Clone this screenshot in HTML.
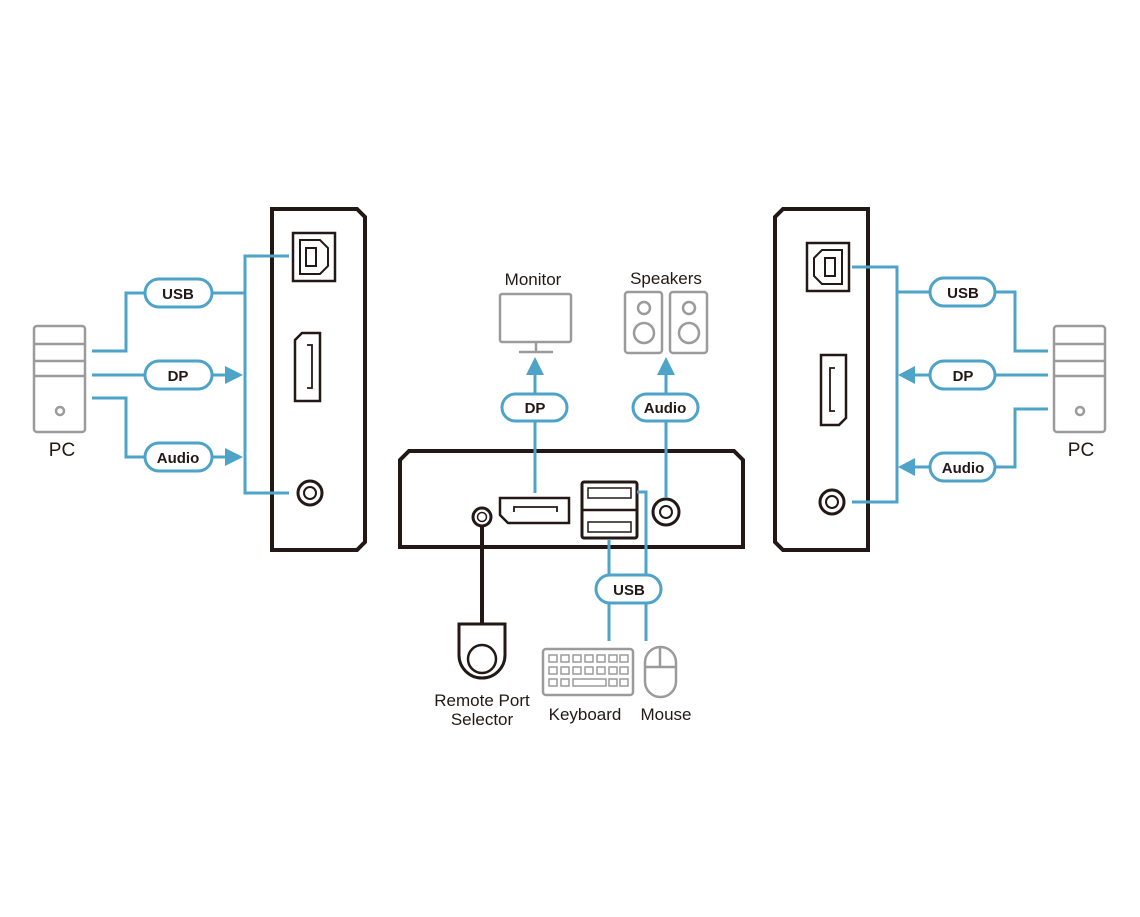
<!DOCTYPE html>
<html><head><meta charset="utf-8"><style>
html,body{margin:0;padding:0;background:#fff;}
svg{display:block}
text{font-family:"Liberation Sans",sans-serif}
.b{fill:none;stroke:#4ea3c8;stroke-width:3}
.k{fill:none;stroke:#231815;stroke-width:4;stroke-linejoin:miter}
.g{fill:none;stroke:#9b9b9b;stroke-width:2.5}
.pill{fill:#fff;stroke:#4ea3c8;stroke-width:3}
.pt{font-weight:bold;font-size:15px;fill:#231815;text-anchor:middle}
.lb{font-size:17px;fill:#231815;text-anchor:middle}
</style></head><body>
<svg width="1140" height="917" viewBox="0 0 1140 917">
<!-- LEFT -->
<path class="k" d="M272,209 H357 L365,217 V542 L357,550 H272 Z"/>
<rect x="293" y="233" width="42" height="48" fill="none" stroke="#231815" stroke-width="2.5"/>
<path d="M300,240 H320 L328,248 V266 L320,274 H300 Z" fill="none" stroke="#231815" stroke-width="2"/>
<rect x="306" y="248" width="10" height="18" fill="none" stroke="#231815" stroke-width="2"/>
<path d="M302,333 H320 V401 H295 V340 Z" fill="none" stroke="#231815" stroke-width="2.5"/>
<path d="M307,345 H312 V388 H307" fill="none" stroke="#231815" stroke-width="1.8"/>
<circle cx="310" cy="493" r="12" fill="none" stroke="#231815" stroke-width="3"/>
<circle cx="310" cy="493" r="6" fill="none" stroke="#231815" stroke-width="2"/>
<path class="b" d="M289,256 H245 V493 H289"/>
<path class="b" d="M92,351 H126 V293 H245"/>
<path class="b" d="M92,375 H226"/>
<path class="b" d="M92,398 H126 V457 H226"/>
<polygon points="225,366 243,375 225,384" fill="#4ea3c8"/>
<polygon points="225,448 243,457 225,466" fill="#4ea3c8"/>
<rect class="pill" x="145" y="279" width="67" height="28" rx="14"/><text class="pt" x="178" y="299">USB</text>
<rect class="pill" x="145" y="361" width="67" height="28" rx="14"/><text class="pt" x="178" y="381">DP</text>
<rect class="pill" x="145" y="443" width="67" height="28" rx="14"/><text class="pt" x="178" y="463">Audio</text>
<rect class="g" x="34" y="326" width="51" height="106" rx="3"/>
<path class="g" d="M34,344 H85 M34,361 H85 M34,376 H85"/>
<circle class="g" cx="60" cy="411" r="4"/>
<text class="lb" x="62" y="456" style="font-size:19px">PC</text>
<!-- RIGHT -->
<path class="k" d="M868,209 H783 L775,217 V542 L783,550 H868 Z"/>
<rect x="807" y="243" width="42" height="48" fill="none" stroke="#231815" stroke-width="2.5"/>
<path d="M822,250 H842 V284 H822 L814,276 V258 Z" fill="none" stroke="#231815" stroke-width="2"/>
<rect x="825" y="258" width="10" height="18" fill="none" stroke="#231815" stroke-width="2"/>
<path d="M821,355 H846 V418 L839,425 H821 Z" fill="none" stroke="#231815" stroke-width="2.5"/>
<path d="M835,368 H830 V411 H835" fill="none" stroke="#231815" stroke-width="1.8"/>
<circle cx="832" cy="502" r="12" fill="none" stroke="#231815" stroke-width="3"/>
<circle cx="832" cy="502" r="6" fill="none" stroke="#231815" stroke-width="2"/>
<path class="b" d="M852,267 H897 V502 H852"/>
<path class="b" d="M1048,351 H1015 V292 H897"/>
<path class="b" d="M1048,375 H914"/>
<path class="b" d="M1048,409 H1015 V467 H914"/>
<polygon points="915,366 898,375 915,384" fill="#4ea3c8"/>
<polygon points="915,458 898,467 915,476" fill="#4ea3c8"/>
<rect class="pill" x="930" y="278" width="65" height="28" rx="14"/><text class="pt" x="963" y="298">USB</text>
<rect class="pill" x="930" y="361" width="65" height="28" rx="14"/><text class="pt" x="963" y="381">DP</text>
<rect class="pill" x="930" y="453" width="65" height="28" rx="14"/><text class="pt" x="963" y="473">Audio</text>
<rect class="g" x="1054" y="326" width="51" height="106" rx="3"/>
<path class="g" d="M1054,344 H1105 M1054,361 H1105 M1054,376 H1105"/>
<circle class="g" cx="1080" cy="411" r="4"/>
<text class="lb" x="1081" y="456" style="font-size:19px">PC</text>
<!-- CENTER -->
<path class="k" d="M400,547 V460 L409,451 H734 L743,460 V547 Z"/>
<circle cx="482" cy="517" r="9" fill="none" stroke="#231815" stroke-width="3"/>
<circle cx="482" cy="517" r="4.5" fill="none" stroke="#231815" stroke-width="1.5"/>
<path d="M482,526 V625" stroke="#231815" stroke-width="4"/>
<path d="M459,624 H505 V655 A23,23 0 0 1 459,655 Z" fill="none" stroke="#231815" stroke-width="3"/>
<circle cx="482" cy="659" r="14" fill="none" stroke="#231815" stroke-width="2.5"/>
<path d="M500,498 H569 V523 H508 L500,515 Z" fill="none" stroke="#231815" stroke-width="2.5"/>
<path d="M514,512 V507 H557 V512" fill="none" stroke="#231815" stroke-width="1.8"/>
<rect x="582" y="482" width="55" height="56" rx="2" fill="none" stroke="#231815" stroke-width="3"/>
<path d="M582,510 H637" stroke="#231815" stroke-width="2.5"/>
<rect x="588" y="488" width="43" height="10" fill="none" stroke="#231815" stroke-width="1.5"/>
<rect x="588" y="522" width="43" height="10" fill="none" stroke="#231815" stroke-width="1.5"/>
<circle cx="666" cy="512" r="13" fill="none" stroke="#231815" stroke-width="3"/>
<circle cx="666" cy="512" r="6" fill="none" stroke="#231815" stroke-width="2"/>
<path class="b" d="M535,493 V372"/>
<polygon points="526,375 535,357 544,375" fill="#4ea3c8"/>
<rect class="pill" x="502" y="394" width="65" height="27" rx="13.5"/><text class="pt" x="535" y="413">DP</text>
<path class="b" d="M666,498 V372"/>
<polygon points="657,375 666,357 675,375" fill="#4ea3c8"/>
<rect class="pill" x="633" y="394" width="65" height="27" rx="13.5"/><text class="pt" x="665" y="413">Audio</text>
<path class="b" d="M609,540 V641 M637,492 H646 V641"/>
<rect class="pill" x="596" y="575" width="65" height="28" rx="14"/><text class="pt" x="629" y="595">USB</text>
<rect class="g" x="500" y="294" width="71" height="48" rx="2"/>
<path class="g" d="M536,342 V351 M519,352 H553"/>
<text class="lb" x="533" y="285">Monitor</text>
<rect class="g" x="625" y="292" width="37" height="61" rx="3"/>
<rect class="g" x="670" y="292" width="37" height="61" rx="3"/>
<circle class="g" cx="644" cy="308" r="6"/><circle class="g" cx="644" cy="333" r="10"/>
<circle class="g" cx="689" cy="308" r="6"/><circle class="g" cx="689" cy="333" r="10"/>
<text class="lb" x="666" y="284">Speakers</text>
<rect class="g" x="543" y="649" width="90" height="46" rx="3"/>
<g fill="none" stroke="#9b9b9b" stroke-width="1.5">
<rect x="549" y="655" width="8" height="7"/><rect x="561" y="655" width="8" height="7"/><rect x="573" y="655" width="8" height="7"/><rect x="585" y="655" width="8" height="7"/><rect x="597" y="655" width="8" height="7"/><rect x="609" y="655" width="8" height="7"/><rect x="620" y="655" width="8" height="7"/>
<rect x="549" y="667" width="8" height="7"/><rect x="561" y="667" width="8" height="7"/><rect x="573" y="667" width="8" height="7"/><rect x="585" y="667" width="8" height="7"/><rect x="597" y="667" width="8" height="7"/><rect x="609" y="667" width="8" height="7"/><rect x="620" y="667" width="8" height="7"/>
<rect x="549" y="679" width="8" height="7"/><rect x="561" y="679" width="8" height="7"/><rect x="573" y="679" width="33" height="7"/><rect x="609" y="679" width="8" height="7"/><rect x="620" y="679" width="8" height="7"/>
</g>
<rect class="g" x="645" y="647" width="31" height="50" rx="15.5"/>
<path class="g" d="M645,667 H676 M660,647 V667"/>
<text class="lb" x="482" y="706">Remote Port</text>
<text class="lb" x="482" y="725">Selector</text>
<text class="lb" x="585" y="720">Keyboard</text>
<text class="lb" x="666" y="720">Mouse</text>
</svg>
</body></html>
